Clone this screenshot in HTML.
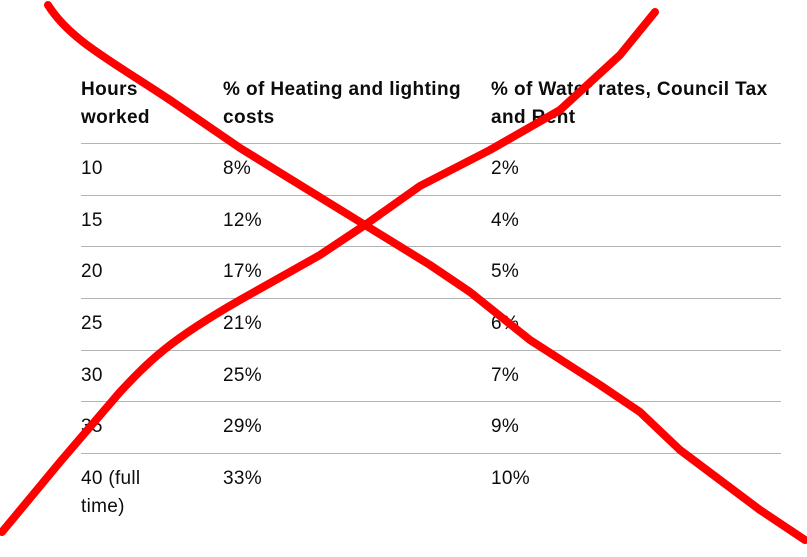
<!DOCTYPE html>
<html><head><style>
body{margin:0;width:807px;height:557px;background:#fff;overflow:hidden;position:relative;font-family:"Liberation Sans",Arial,sans-serif;color:#0b0c0c}
.t{position:absolute;font-size:19px;line-height:28px;letter-spacing:0.3px}
.b{font-weight:bold;letter-spacing:0.4px}
.l{position:absolute;left:81px;width:700px;height:1px;background:#b1b4b6}
svg{position:absolute;left:0;top:0}
</style></head><body>
<div class="t b" style="left:81px;top:76px">Hours<br>worked</div>
<div class="t b" style="left:223px;top:76px">% of Heating and lighting<br>costs</div>
<div class="t b" style="left:491px;top:76px">% of Water rates, Council Tax<br>and Rent</div>
<div class="l" style="top:143px"></div>
<div class="l" style="top:195px"></div>
<div class="l" style="top:246px"></div>
<div class="l" style="top:298px"></div>
<div class="l" style="top:350px"></div>
<div class="l" style="top:401px"></div>
<div class="l" style="top:453px"></div>
<div class="t" style="left:81px;top:155px">10</div><div class="t" style="left:223px;top:155px">8%</div><div class="t" style="left:491px;top:155px">2%</div>
<div class="t" style="left:81px;top:207px">15</div><div class="t" style="left:223px;top:207px">12%</div><div class="t" style="left:491px;top:207px">4%</div>
<div class="t" style="left:81px;top:258px">20</div><div class="t" style="left:223px;top:258px">17%</div><div class="t" style="left:491px;top:258px">5%</div>
<div class="t" style="left:81px;top:310px">25</div><div class="t" style="left:223px;top:310px">21%</div><div class="t" style="left:491px;top:310px">6%</div>
<div class="t" style="left:81px;top:362px">30</div><div class="t" style="left:223px;top:362px">25%</div><div class="t" style="left:491px;top:362px">7%</div>
<div class="t" style="left:81px;top:413px">35</div><div class="t" style="left:223px;top:413px">29%</div><div class="t" style="left:491px;top:413px">9%</div>
<div class="t" style="left:81px;top:465px">40 (full<br>time)</div><div class="t" style="left:223px;top:465px">33%</div><div class="t" style="left:491px;top:465px">10%</div>
<svg width="807" height="557"><g fill="none" stroke="#ff0000" stroke-width="8" stroke-linecap="round" stroke-linejoin="round">
<path d="M48,5 C70,40 110,60 170,100 L240,148 L365,225 L430,265 L470,292 L530,340 L600,385 L640,412 L680,450 L720,480 L760,510 L805,540"/>
<path d="M2,532 L60,462 L120,392 C150,360 170,340 240,300 L320,255 L365,225 L420,186 L490,150 L560,110 L620,55 L655,12"/>
</g></svg>
</body></html>
